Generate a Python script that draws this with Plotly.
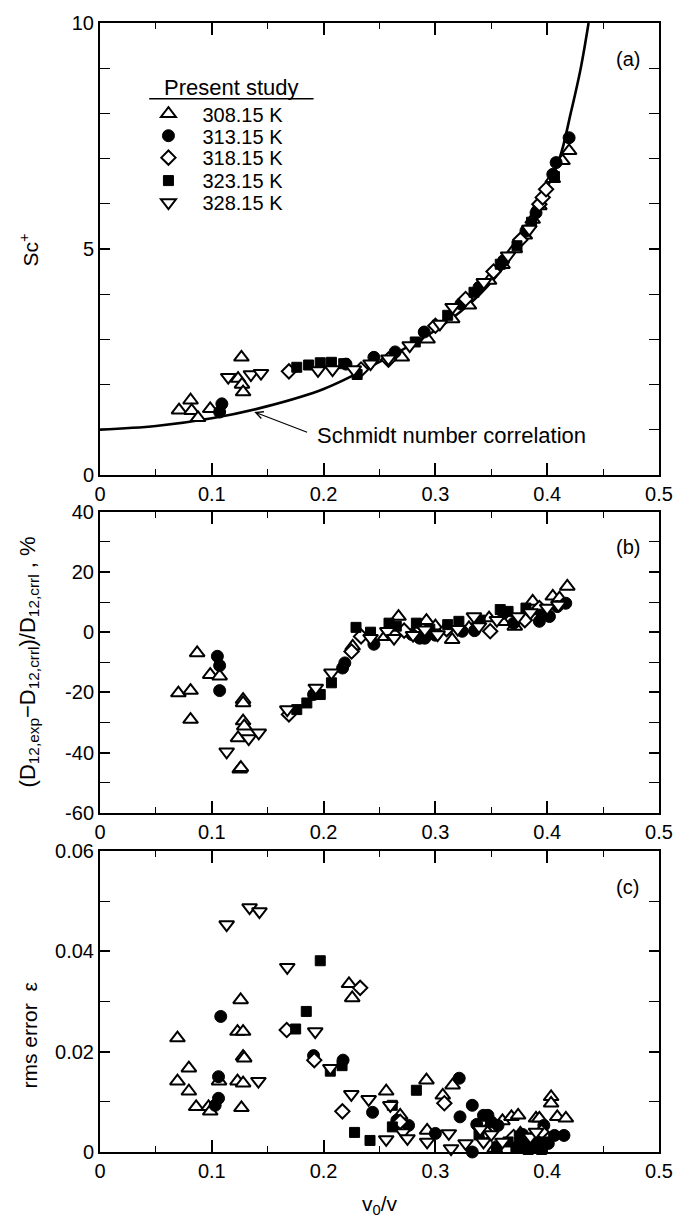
import plotly.graph_objects as go

# ---------------- data ----------------
series_names = ["308.15 K", "313.15 K", "318.15 K", "323.15 K", "328.15 K"]

# Panel (a): Sc+ versus v0/v
a_x_308 = [0.0707, 0.081, 0.082, 0.0877, 0.0986, 0.1235, 0.1265, 0.127, 0.128, 0.270, 0.293, 0.315, 0.330,
           0.348, 0.360, 0.371, 0.380, 0.387, 0.393, 0.405, 0.4137, 0.4196]
a_y_308 = [1.43, 1.65, 1.42, 1.26, 1.46, 2.13, 2.60, 2.00, 1.83, 2.60, 3.00, 3.45, 3.75,
           4.30, 4.65, 5.00, 5.30, 5.65, 5.95, 6.55, 6.95, 7.17]
a_x_313 = [0.107, 0.109, 0.220, 0.245, 0.264, 0.290, 0.3228, 0.339, 0.361, 0.381, 0.390, 0.405, 0.408, 0.4196]
a_y_313 = [1.39, 1.57, 2.45, 2.60, 2.72, 3.16, 3.78, 4.15, 4.74, 5.40, 5.80, 6.65, 6.91, 7.46]
a_x_318 = [0.169, 0.2335, 0.258, 0.300, 0.327, 0.352, 0.376, 0.393, 0.396, 0.399]
a_y_318 = [2.29, 2.33, 2.55, 3.30, 3.89, 4.50, 5.20, 5.99, 6.14, 6.32]
a_x_323 = [0.176, 0.1866, 0.197, 0.207, 0.218, 0.230, 0.282, 0.311, 0.3345, 0.358, 0.373, 0.386, 0.4065]
a_y_323 = [2.38, 2.43, 2.48, 2.49, 2.46, 2.22, 2.94, 3.53, 4.04, 4.66, 5.07, 5.59, 6.60]
a_x_328 = [0.1147, 0.135, 0.144, 0.195, 0.208, 0.227, 0.242, 0.258, 0.277, 0.304, 0.3154, 0.3433, 0.365, 0.384]
a_y_328 = [2.16, 2.22, 2.25, 2.31, 2.33, 2.33, 2.46, 2.57, 2.86, 3.34, 3.71, 4.26, 4.85, 5.44]

# Schmidt number correlation
corr_x = [0.0, 0.05, 0.10, 0.15, 0.20, 0.25, 0.30, 0.34, 0.3726, 0.393, 0.411, 0.421, 0.430, 0.437]
corr_y = [1.00, 1.08, 1.25, 1.52, 1.90, 2.50, 3.20, 4.00, 5.00, 6.00, 7.00, 8.00, 9.00, 10.0]

# Panel (b): deviation, %
b_x_308 = [0.0701, 0.081, 0.081, 0.0869, 0.0986, 0.107, 0.1235, 0.125, 0.126, 0.128, 0.128, 0.128, 0.129,
           0.226, 0.255, 0.267, 0.283, 0.292, 0.300, 0.315, 0.330, 0.348, 0.360, 0.371, 0.387, 0.395,
           0.405, 0.411, 0.418]
b_y_308 = [-20.2, -19.4, -29.0, -6.9, -14.1, -14.6, -35.1, -45.5, -45.0, -22.4, -23.5, -29.5, -31.2,
           -4.7, -1.5, 5.2, 0.0, 3.8, 2.0, -2.5, 1.4, 4.7, 3.5, 1.9, 10.2, 7.0,
           11.9, 11.3, 15.2]
b_x_313 = [0.105, 0.107, 0.107, 0.191, 0.217, 0.219, 0.245, 0.279, 0.286, 0.2905, 0.300, 0.324, 0.335,
           0.361, 0.370, 0.380, 0.393, 0.402, 0.409, 0.4166]
b_y_313 = [-8.0, -11.1, -19.4, -20.7, -11.9, -10.2, -4.0, -0.8, -2.0, -2.0, -1.0, 0.3, 0.5,
           6.3, 3.0, 4.5, 3.6, 5.2, 8.5, 9.6]
b_x_318 = [0.169, 0.225, 0.2335, 0.272, 0.310, 0.349, 0.380, 0.393]
b_y_318 = [-27.3, -6.4, -1.4, 0.5, 1.0, 0.3, 4.0, 8.0]
b_x_323 = [0.176, 0.185, 0.197, 0.207, 0.229, 0.242, 0.2585, 0.265, 0.283, 0.295, 0.311, 0.321, 0.340,
           0.358, 0.365, 0.381, 0.395]
b_y_323 = [-25.7, -23.5, -20.7, -16.8, 1.6, 0.0, 3.0, 2.0, 3.0, 1.0, 2.5, 3.6, 4.0,
           7.5, 6.9, 8.0, 6.0]
b_x_328 = [0.1133, 0.133, 0.142, 0.1675, 0.193, 0.207, 0.242, 0.257, 0.263, 0.280, 0.2905, 0.302, 0.320,
           0.3345, 0.339, 0.355, 0.374, 0.385, 0.400, 0.410]
b_y_328 = [-39.7, -35.3, -33.4, -25.7, -18.5, -13.5, -2.0, 0.3, -2.0, -1.0, 0.8, -0.8, 1.0,
           5.2, 1.9, 4.0, 5.2, 6.5, 8.0, 9.0]

# Panel (c): rms error
c_x_308 = [0.0693, 0.0693, 0.0795, 0.0795, 0.086, 0.0971, 0.0986, 0.1065, 0.123, 0.128, 0.1258, 0.128,
           0.129, 0.123, 0.128, 0.1265, 0.2227, 0.2256, 0.256, 0.2685, 0.292, 0.2926, 0.3154, 0.3066,
           0.353, 0.360, 0.368, 0.374, 0.376, 0.390, 0.393, 0.4035, 0.4035, 0.409, 0.4167]
c_y_308 = [0.0227, 0.0141, 0.0167, 0.0121, 0.0090, 0.0090, 0.0081, 0.0141, 0.0240, 0.0240, 0.0303, 0.0190,
           0.0187, 0.0141, 0.0137, 0.0088, 0.0335, 0.0307, 0.0121, 0.0073, 0.0143, 0.0043, 0.0133, 0.0113,
           0.0007, 0.0062, 0.0070, 0.0073, 0.0037, 0.0067, 0.0067, 0.0110, 0.0097, 0.0070, 0.0067]
c_x_313 = [0.108, 0.106, 0.106, 0.103, 0.191, 0.2174, 0.2438, 0.2655, 0.276, 0.300, 0.3213, 0.322, 0.333,
           0.337, 0.343, 0.347, 0.350, 0.333, 0.356, 0.372, 0.378, 0.380, 0.385, 0.388, 0.392, 0.397,
           0.401, 0.4065, 0.415]
c_y_313 = [0.0270, 0.0150, 0.0107, 0.0093, 0.0192, 0.0183, 0.0079, 0.0063, 0.0053, 0.0037, 0.0147, 0.0070,
           0.0093, 0.0055, 0.0073, 0.0073, 0.0060, 0.0000, 0.0053, 0.0025, 0.0035, 0.0020, 0.0010, 0.0030,
           0.0015, 0.0053, 0.0017, 0.0033, 0.0033]
c_x_318 = [0.167, 0.1917, 0.2327, 0.2168, 0.2685, 0.308, 0.345, 0.370, 0.395]
c_y_318 = [0.0243, 0.0183, 0.0327, 0.0081, 0.0060, 0.0097, 0.0040, 0.0030, 0.0040]
c_x_323 = [0.197, 0.1845, 0.175, 0.2165, 0.206, 0.2614, 0.2277, 0.2415, 0.2615, 0.283, 0.339, 0.355,
           0.365, 0.372, 0.375, 0.378, 0.380, 0.383, 0.386, 0.388, 0.392, 0.395, 0.398]
c_y_323 = [0.0381, 0.0280, 0.0245, 0.0172, 0.0161, 0.0093, 0.0039, 0.0023, 0.0050, 0.0123, 0.0034, 0.0010,
           0.0020, 0.0010, 0.0030, 0.0020, 0.0008, 0.0005, 0.0025, 0.0015, 0.0010, 0.0005, 0.0020]
c_x_328 = [0.1133, 0.1338, 0.1426, 0.1417, 0.1675, 0.1925, 0.206, 0.2248, 0.2403, 0.256, 0.2597, 0.271,
           0.275, 0.2926, 0.312, 0.314, 0.327, 0.340, 0.343, 0.350, 0.360, 0.385, 0.390]
c_y_328 = [0.0453, 0.0487, 0.0479, 0.0141, 0.0368, 0.0240, 0.0167, 0.0115, 0.0105, 0.0025, 0.0093, 0.0039,
           0.0027, 0.0020, 0.0037, 0.0007, 0.0017, 0.0045, 0.0020, 0.0035, 0.0020, 0.0030, 0.0040]

x_tick_vals = [0, 0.1, 0.2, 0.3, 0.4, 0.5]
x_tick_text = ["0", "0.1", "0.2", "0.3", "0.4", "0.5"]
a_tick_vals = [0, 5, 10]
a_tick_text = ["0", "5", "10"]
b_tick_vals = [-60, -40, -20, 0, 20, 40]
b_tick_text = ["-60", "-40", "-20", "0", "20", "40"]
c_tick_vals = [0, 0.02, 0.04, 0.06]
c_tick_text = ["0", "0.02", "0.04", "0.06"]

# ---------------- styles ----------------
FONT = "Liberation Sans, Arial, sans-serif"
markers = [
    dict(symbol="triangle-up", size=13, color="white", line=dict(color="black", width=2)),
    dict(symbol="circle", size=12, color="black", line=dict(color="black", width=1)),
    dict(symbol="diamond", size=11, color="white", line=dict(color="black", width=2)),
    dict(symbol="square", size=10, color="black", line=dict(color="black", width=1)),
    dict(symbol="triangle-down", size=13, color="white", line=dict(color="black", width=2)),
]
legend_ids = ["legend", "legend2", "legend3", "legend4", "legend5"]
legend_rows_px = [111, 133, 155, 178, 200]

panels = [
    ("x", "y", [(a_x_308, a_y_308), (a_x_313, a_y_313), (a_x_318, a_y_318), (a_x_323, a_y_323), (a_x_328, a_y_328)]),
    ("x2", "y2", [(b_x_308, b_y_308), (b_x_313, b_y_313), (b_x_318, b_y_318), (b_x_323, b_y_323), (b_x_328, b_y_328)]),
    ("x3", "y3", [(c_x_308, c_y_308), (c_x_313, c_y_313), (c_x_318, c_y_318), (c_x_323, c_y_323), (c_x_328, c_y_328)]),
]

fig = go.Figure()

fig.add_trace(go.Scatter(x=corr_x, y=corr_y, mode="lines", line=dict(color="black", width=2.6, shape="spline"),
                         showlegend=False, hoverinfo="skip", xaxis="x", yaxis="y"))

for pi, (xa, ya, data) in enumerate(panels):
    for si, (xs, ys) in enumerate(data):
        fig.add_trace(go.Scatter(x=xs, y=ys, mode="markers", marker=markers[si], name=series_names[si],
                                 showlegend=(pi == 0), legend=legend_ids[si], xaxis=xa, yaxis=ya,
                                 cliponaxis=False))

# ---------------- layout ----------------
W, H = 685, 1218
L, R, T, B = 100, 17, 20, 66
plot_h = H - T - B


def ydom(top_px, bot_px):
    return [(H - B - bot_px) / plot_h, (H - B - top_px) / plot_h]


def px2paper_x(px):
    return (px - L) / (W - L - R)


def px2paper_y(py):
    return (H - B - py) / plot_h


common_x = dict(range=[0, 0.5], tickvals=x_tick_vals, ticktext=x_tick_text, ticks="inside", ticklen=12,
                tickwidth=1.5, tickcolor="black", showline=True, linewidth=2, linecolor="black", mirror="ticks",
                showgrid=False, zeroline=False, tickfont=dict(family=FONT, size=20, color="black"),
                minor=dict(dtick=0.05, tick0=0, ticks="inside", ticklen=6, tickwidth=1.2, tickcolor="black",
                           showgrid=False))
common_y = dict(ticks="inside", ticklen=10, tickwidth=1.5, tickcolor="black", showline=True, linewidth=2,
                linecolor="black", mirror="ticks", showgrid=False, zeroline=False,
                tickfont=dict(family=FONT, size=20, color="black"))

layout_legends = {}
for lid, rowpx in zip(legend_ids, legend_rows_px):
    layout_legends[lid] = dict(x=px2paper_x(135), y=px2paper_y(rowpx), xanchor="left", yanchor="middle",
                               bgcolor="rgba(0,0,0,0)", borderwidth=0, itemwidth=58,
                               font=dict(family=FONT, size=20, color="black"))

fig.update_layout(
    width=W, height=H, margin=dict(l=L, r=R, t=T, b=B),
    paper_bgcolor="white", plot_bgcolor="white",
    font=dict(family=FONT, size=18, color="black"),
    xaxis=dict(common_x, domain=[0, 1], anchor="y"),
    yaxis=dict(common_y, domain=ydom(20, 473), range=[0, 10], tickvals=a_tick_vals, ticktext=a_tick_text,
               minor=dict(dtick=1, tick0=0, ticks="inside", ticklen=10, tickwidth=1.2, tickcolor="black"),
               anchor="x"),
    xaxis2=dict(common_x, domain=[0, 1], anchor="y2"),
    yaxis2=dict(common_y, domain=ydom(510, 812), range=[-60, 40], tickvals=b_tick_vals, ticktext=b_tick_text,
                minor=dict(dtick=10, tick0=0, ticks="inside", ticklen=10, tickwidth=1.2, tickcolor="black"),
                anchor="x2"),
    xaxis3=dict(common_x, domain=[0, 1], anchor="y3"),
    yaxis3=dict(common_y, domain=ydom(850, 1152), range=[0, 0.06], tickvals=c_tick_vals, ticktext=c_tick_text,
                minor=dict(dtick=0.01, tick0=0, ticks="inside", ticklen=10, tickwidth=1.2, tickcolor="black"),
                anchor="x3"),
    showlegend=True,
    **layout_legends,
)

# legend header underline
fig.add_shape(type="line", xref="paper", yref="paper", x0=px2paper_x(150), x1=px2paper_x(317),
              y0=px2paper_y(96), y1=px2paper_y(96), line=dict(color="black", width=1.5))

ann = []
ann.append(dict(text="Present study", xref="paper", yref="paper", x=px2paper_x(234), y=px2paper_y(85),
                showarrow=False, xanchor="center", yanchor="middle", font=dict(family=FONT, size=22)))
# panel labels
for lab, py in [("(a)", 56), ("(b)", 545), ("(c)", 886)]:
    ann.append(dict(text=lab, xref="paper", yref="paper", x=px2paper_x(636), y=px2paper_y(py), showarrow=False,
                    xanchor="center", yanchor="middle", font=dict(family=FONT, size=20)))
# axis titles
ann.append(dict(text="Sc<sup>+</sup>", xref="paper", yref="paper", x=px2paper_x(28), y=px2paper_y(248),
                textangle=-90, showarrow=False, xanchor="center", yanchor="middle", font=dict(family=FONT, size=21)))
ann.append(dict(text="(D<sub>12,exp</sub>\u2212D<sub>12,crrl</sub>)/D<sub>12,crrl</sub> , %", xref="paper",
                yref="paper", x=px2paper_x(28), y=px2paper_y(661), textangle=-90, showarrow=False,
                xanchor="center", yanchor="middle", font=dict(family=FONT, size=22)))
ann.append(dict(text="rms error  \u03b5", xref="paper", yref="paper", x=px2paper_x(28), y=px2paper_y(1035),
                textangle=-90, showarrow=False, xanchor="center", yanchor="middle", font=dict(family=FONT, size=21)))
ann.append(dict(text="v<sub>0</sub>/v", xref="paper", yref="paper", x=px2paper_x(384), y=px2paper_y(1205),
                showarrow=False, xanchor="center", yanchor="middle", font=dict(family=FONT, size=21)))
# correlation label and arrow
ann.append(dict(text="Schmidt number correlation", xref="x", yref="y", x=0.192, y=0.88, showarrow=False,
                xanchor="left", yanchor="middle", font=dict(family=FONT, size=22)))
ann.append(dict(text="", xref="x", yref="y", x=0.138, y=1.39, ax=0.1866, ay=0.93, axref="x", ayref="y",
                showarrow=True, arrowhead=5, arrowsize=1.2, arrowwidth=1.2, arrowcolor="black"))
fig.update_layout(annotations=ann)

fig.write_html("out.html")
